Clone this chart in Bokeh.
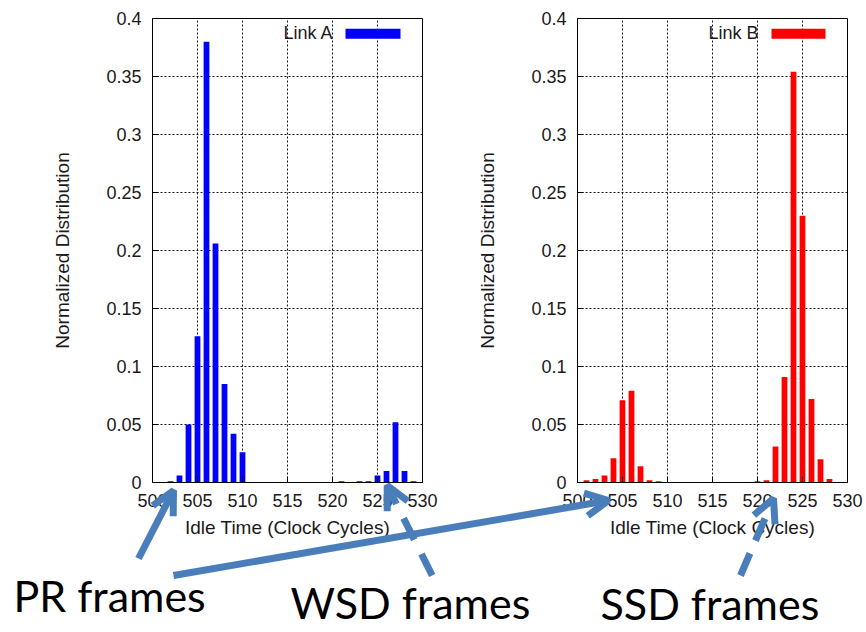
from bokeh.plotting import figure
from bokeh.layouts import row
from bokeh.models import Range1d, FixedTicker, Label, Arrow, OpenHead, BoxAnnotation
from bokeh.embed import file_html
from bokeh.resources import INLINE

# ---------------- data ----------------
idle_ticks = [500, 505, 510, 515, 520, 525, 530]
dist_ticks = [0, 0.05, 0.1, 0.15, 0.2, 0.25, 0.3, 0.35, 0.4]
dist_tick_labels = ["0", "0.05", "0.1", "0.15", "0.2", "0.25", "0.3", "0.35", "0.4"]

cycles_a = [502, 503, 504, 505, 506, 507, 508, 509, 510, 521, 523, 524, 525, 526, 527, 528, 529]
dist_a = [0.001, 0.006, 0.050, 0.126, 0.380, 0.206, 0.085, 0.042, 0.026,
          0.001, 0.001, 0.001, 0.006, 0.010, 0.052, 0.010, 0.001]

cycles_b = [501, 502, 503, 504, 505, 506, 507, 508, 509, 520, 521, 522, 523, 524, 525, 526, 527, 528]
dist_b = [0.002, 0.003, 0.006, 0.021, 0.071, 0.079, 0.014, 0.002, 0.001,
          0.001, 0.002, 0.031, 0.091, 0.354, 0.230, 0.072, 0.020, 0.003]

series_names = ["Link A", "Link B"]
callout_texts = ["PR frames", "WSD frames", "SSD frames"]

# ---------------- layout / style (page pixels) ----------------
W, H = 866, 632
SPLIT_X = 440
ARROW_COLOR = "#4a7ebb"
TXT = "#1a1a1a"
BASE_FIX = 0.42  # label baseline correction (fraction of font size)

# callout arrows: start x, start y, end x, end y, dash
ARROWS = [
    (138, 558, 173, 490, "solid"),
    (173, 575, 608, 500, "solid"),
    (431.7, 575, 386.7, 485, "24 16"),
    (740, 575, 773, 498, "24 14"),
]
CALLOUT_POS = [(13, 613), (290, 620), (600, 621)]
CALLOUT_SIZE = 43


def chart(ox, width, frame_left, cycles, dist, color, name, legend_x, sw_left, sw_right):
    bl = round(frame_left - ox)
    p = figure(width=width, height=H, x_range=Range1d(500, 530), y_range=Range1d(0, 0.4),
               output_backend="svg", toolbar_location=None,
               min_border_left=bl, min_border_right=width - bl - 270,
               min_border_top=18, min_border_bottom=H - 18 - 464)
    p.vbar(x=cycles, top=dist, width=0.64, fill_color=color, line_color=None)
    p.xaxis.ticker = FixedTicker(ticks=idle_ticks)
    p.yaxis.ticker = FixedTicker(ticks=dist_ticks)
    p.yaxis.major_label_overrides = dict(zip(dist_ticks, dist_tick_labels))
    p.xaxis.axis_label = "Idle Time (Clock Cycles)"
    p.yaxis.axis_label = "Normalized Distribution"
    for ax in (p.xaxis[0], p.yaxis[0]):
        ax.major_tick_in = 6
        ax.major_tick_out = 0
        ax.minor_tick_line_color = None
        ax.axis_line_color = "black"
        ax.major_tick_line_color = "black"
        ax.major_label_text_font = "Liberation Sans"
        ax.major_label_text_font_size = "18px"
        ax.major_label_text_color = TXT
        ax.axis_label_text_font = "Liberation Sans"
        ax.axis_label_text_font_size = "19px"
        ax.axis_label_text_font_style = "normal"
        ax.axis_label_text_color = TXT
    p.xaxis.major_label_standoff = 11
    p.yaxis.major_label_standoff = 11
    p.xaxis.axis_label_standoff = 7
    p.yaxis.axis_label_standoff = 30
    p.grid.grid_line_color = "black"
    p.grid.grid_line_dash = "2 2"
    p.grid.grid_line_alpha = 0.9
    p.outline_line_color = "black"
    p.outline_line_width = 1
    p.background_fill_color = "white"
    p.border_fill_color = "white"
    # legend (text left of the swatch, as in the original)
    p.add_layout(Label(x=legend_x - ox, y=40 - BASE_FIX * 18, x_units="canvas", y_units="canvas",
                       text=name, text_font="Liberation Sans", text_font_size="18px",
                       text_color=TXT, text_baseline="alphabetic", text_align="left"))
    p.add_layout(BoxAnnotation(left=sw_left - ox, right=sw_right - ox, top=28.3, bottom=38.3,
                               left_units="canvas", right_units="canvas",
                               top_units="canvas", bottom_units="canvas",
                               fill_color=color, fill_alpha=1.0, line_color=None))
    return p


left = chart(0, SPLIT_X, 151.7, cycles_a, dist_a, "#0000ff", series_names[0], 283, 345, 400)
right = chart(SPLIT_X, W - SPLIT_X, 576.7, cycles_b, dist_b, "#ff0000", series_names[1], 708, 771, 825)
charts = row(left, right)

# transparent overlay over both charts (separate root, absolutely positioned), for the callouts
overlay = figure(width=W, height=H, x_range=Range1d(0, W), y_range=Range1d(H, 0),
                 output_backend="svg", toolbar_location=None, min_border=0,
                 styles={"position": "absolute", "left": "0px", "top": "0px"})
overlay.axis.visible = False
overlay.grid.visible = False
overlay.outline_line_color = None
overlay.background_fill_color = None
overlay.border_fill_color = None
for xs, ys, xe, ye, dash in ARROWS:
    overlay.add_layout(Arrow(x_start=xs, y_start=ys, x_end=xe, y_end=ye,
                             line_color=ARROW_COLOR, line_width=7, line_dash=dash,
                             end=OpenHead(size=23, line_color=ARROW_COLOR, line_width=7)))
for txt, (tx, ty) in zip(callout_texts, CALLOUT_POS):
    overlay.add_layout(Label(x=tx, y=ty - BASE_FIX * CALLOUT_SIZE, text=txt,
                             text_font="Lato", text_font_size=f"{CALLOUT_SIZE}px",
                             text_color="black", text_baseline="alphabetic", text_align="left"))

open("out.html", "w").write(file_html([charts, overlay], INLINE))
